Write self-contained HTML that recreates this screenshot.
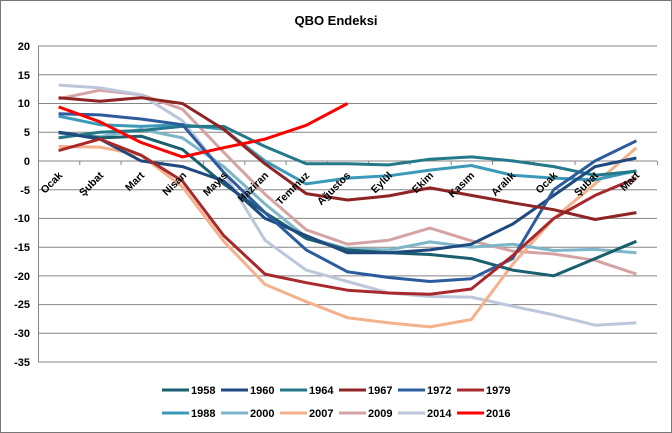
<!DOCTYPE html>
<html><head><meta charset="utf-8"><style>
html,body{margin:0;padding:0;background:#fff}
svg{display:block;font-family:"Liberation Sans",sans-serif}
</style></head><body>
<svg id="s" width="672" height="433" viewBox="0 0 672 433">
<rect x="0.5" y="0.5" width="671" height="432" fill="#fff" stroke="#777"/>
<text x="336" y="25" text-anchor="middle" font-size="13" font-weight="bold">QBO Endeksi</text>
<g stroke="#858585" stroke-width="1">
<line x1="38" y1="46" x2="657" y2="46"/><line x1="38" y1="74.7" x2="657" y2="74.7"/>
<line x1="38" y1="103.5" x2="657" y2="103.5"/><line x1="38" y1="132.2" x2="657" y2="132.2"/>
<line x1="38" y1="161" x2="657" y2="161"/><line x1="38" y1="189.7" x2="657" y2="189.7"/>
<line x1="38" y1="218.4" x2="657" y2="218.4"/><line x1="38" y1="247.2" x2="657" y2="247.2"/>
<line x1="38" y1="275.9" x2="657" y2="275.9"/><line x1="38" y1="304.6" x2="657" y2="304.6"/>
<line x1="38" y1="333.3" x2="657" y2="333.3"/><line x1="38" y1="362" x2="657" y2="362"/>
<line x1="38.5" y1="46" x2="38.5" y2="362"/>
</g>
<g id="ticks" stroke="#858585"></g>
<g font-size="11" font-weight="bold" text-anchor="end">
<text x="30" y="50">20</text><text x="30" y="79">15</text><text x="30" y="107">10</text>
<text x="30" y="136">5</text><text x="30" y="165">0</text><text x="30" y="194">-5</text>
<text x="30" y="222">-10</text><text x="30" y="251">-15</text><text x="30" y="280">-20</text>
<text x="30" y="308">-25</text><text x="30" y="337">-30</text><text x="30" y="366">-35</text>
</g>
<g id="lines" fill="none" stroke-width="3" stroke-linejoin="round"></g>
<g font-size="10.5" font-weight="bold" text-anchor="end">
<text transform="translate(63,176) rotate(-45)">Ocak</text>
<text transform="translate(104,176) rotate(-45)">Şubat</text>
<text transform="translate(145,176) rotate(-45)">Mart</text>
<text transform="translate(187,176) rotate(-45)">Nisan</text>
<text transform="translate(228,176) rotate(-45)">Mayıs</text>
<text transform="translate(269,176) rotate(-45)">Haziran</text>
<text transform="translate(310,176) rotate(-45)">Temmuz</text>
<text transform="translate(351,176) rotate(-45)">Ağustos</text>
<text transform="translate(393,176) rotate(-45)">Eylül</text>
<text transform="translate(434,176) rotate(-45)">Ekim</text>
<text transform="translate(475,176) rotate(-45)">Kasım</text>
<text transform="translate(516,176) rotate(-45)">Aralık</text>
<text transform="translate(558,176) rotate(-45)">Ocak</text>
<text transform="translate(599,176) rotate(-45)">Şubat</text>
<text transform="translate(640,176) rotate(-45)">Mart</text>
</g>
<g font-size="11" font-weight="bold" stroke-width="3">
<line x1="162" y1="390" x2="189" y2="390" stroke="#1B5E6E"/><text x="191" y="394">1958</text>
<line x1="221" y1="390" x2="248" y2="390" stroke="#1F4A80"/><text x="250" y="394">1960</text>
<line x1="280" y1="390" x2="307" y2="390" stroke="#23788A"/><text x="309" y="394">1964</text>
<line x1="339" y1="390" x2="366" y2="390" stroke="#8E2424"/><text x="368" y="394">1967</text>
<line x1="398" y1="390" x2="425" y2="390" stroke="#2C5C9E"/><text x="427" y="394">1972</text>
<line x1="457" y1="390" x2="484" y2="390" stroke="#A8292B"/><text x="486" y="394">1979</text>
<line x1="162" y1="413" x2="189" y2="413" stroke="#3B9AB8"/><text x="191" y="417">1988</text>
<line x1="221" y1="413" x2="248" y2="413" stroke="#7DB5C9"/><text x="250" y="417">2000</text>
<line x1="280" y1="413" x2="307" y2="413" stroke="#F5B08C"/><text x="309" y="417">2007</text>
<line x1="339" y1="413" x2="366" y2="413" stroke="#D5A3A3"/><text x="368" y="417">2009</text>
<line x1="398" y1="413" x2="425" y2="413" stroke="#BCC7DB"/><text x="427" y="417">2014</text>
<line x1="457" y1="413" x2="484" y2="413" stroke="#FF0000"/><text x="486" y="417">2016</text>
</g>
</svg>
<script>
var ns="http://www.w3.org/2000/svg";
var X=function(i){return 58.6+41.27*i}, Y=function(v){return 160.9-v*5.745};
var t=document.getElementById("ticks");
for(var k=0;k<=15;k++){var l=document.createElementNS(ns,"line");var x=38.5+41.27*k;
l.setAttribute("x1",x);l.setAttribute("x2",x);l.setAttribute("y1",161);l.setAttribute("y2",165);t.appendChild(l);}
var S=[
["#D5A3A3",[10.8,12.3,11.5,9,1.5,-5.8,-12,-14.5,-13.8,-11.7,-13.9,-15.7,-16.2,-17.3,-19.7]],
["#BCC7DB",[13.2,12.7,11.5,7,-2,-13.8,-19,-21,-23,-23.6,-23.7,-25.3,-26.8,-28.6,-28.2]],
["#F5B08C",[2.5,2.4,1,-4.5,-14,-21.5,-24.5,-27.3,-28.2,-28.9,-27.6,-18,-10,-4,2.3]],
["#7DB5C9",[4.8,4.2,5.5,4,-1,-7.5,-13.3,-15.3,-15.5,-14.1,-15,-14.5,-15.6,-15.4,-16]],
["#3B9AB8",[7.8,6.3,6,6.3,5.5,0,-4,-3,-2.6,-1.6,-0.8,-2.5,-3,-3.3,-1.7]],
["#1B5E6E",[5,4,4.3,2,-4,-9,-13.5,-15.5,-16,-16.3,-17,-19,-20,-17,-14]],
["#23788A",[4,5,5.3,6,6,2.5,-0.5,-0.5,-0.7,0.3,0.7,0,-1,-2.5,-1.8]],
["#1F4A80",[5,3.8,0,-1,-3.5,-10,-13,-16,-16,-15.5,-14.5,-11,-6,-1,0.5]],
["#2C5C9E",[8.2,8,7.3,6.3,-2,-9,-15.5,-19.3,-20.3,-21,-20.5,-17,-5,0,3.5]],
["#A8292B",[1.8,3.8,1,-3.5,-13,-19.7,-21.2,-22.5,-23,-23.2,-22.3,-16.5,-10,-6,-3]],
["#8E2424",[11,10.4,11,10,5.5,-0.5,-5.7,-6.8,-6.1,-4.7,-6,-7.3,-8.5,-10.2,-9]],
["#FF0000",[9.4,6.8,3.2,0.7,2.3,3.8,6.2,10]]
];
var g=document.getElementById("lines");
S.forEach(function(s){var p=document.createElementNS(ns,"polyline");
p.setAttribute("points",s[1].map(function(v,i){return X(i).toFixed(1)+","+Y(v).toFixed(1)}).join(" "));
p.setAttribute("stroke",s[0]);g.appendChild(p);});
</script>
</body></html>
